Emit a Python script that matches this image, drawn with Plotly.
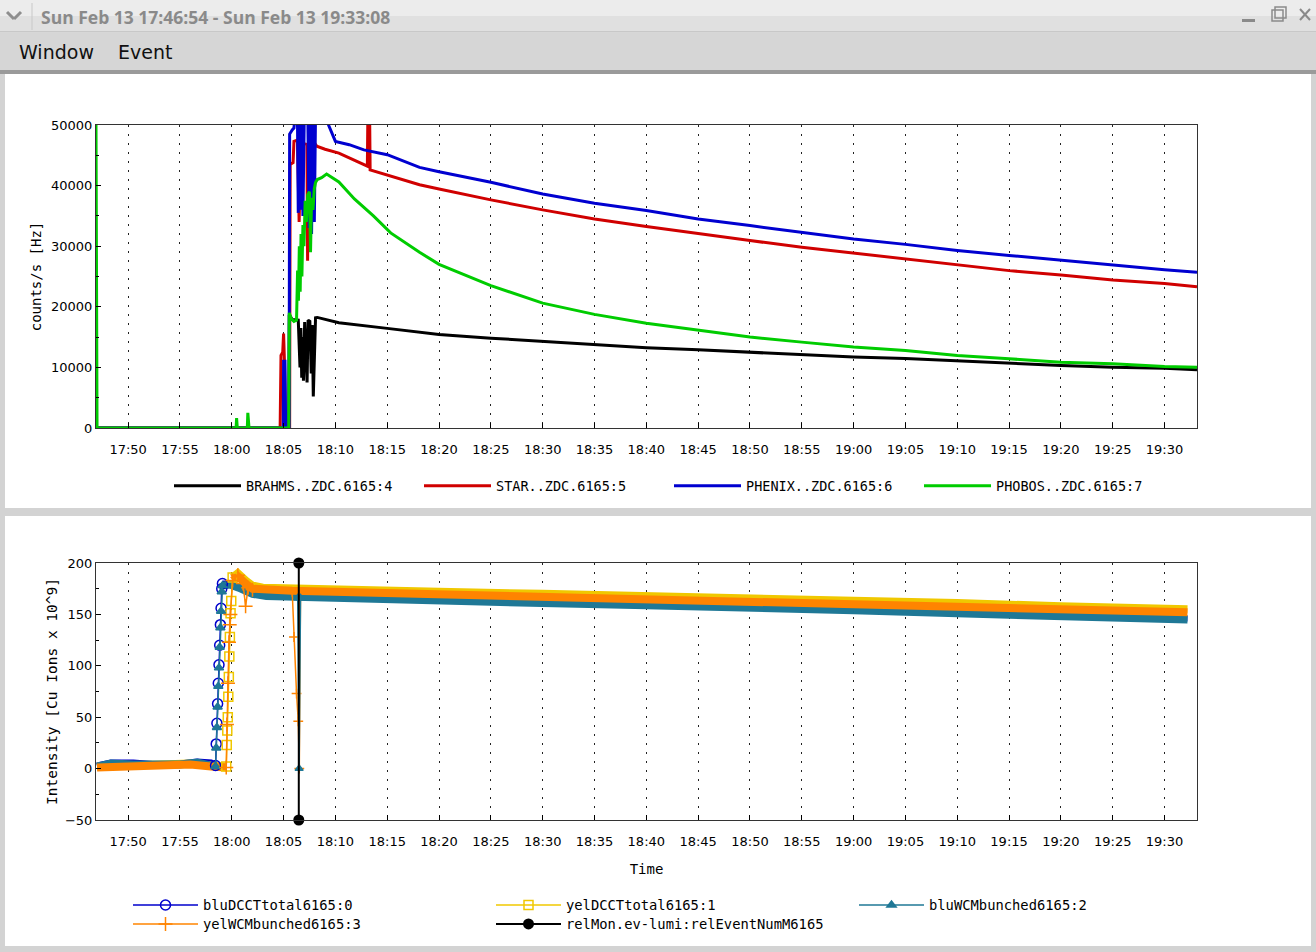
import pandas as pd
import plotly.graph_objects as go

DAY = "2005-02-13 "
T_START, T_END = "17:46:54", "19:33:08"
W, H = 1316, 952

# ---------------- top panel: ZDC coincidence rates [counts/s] ----------------
brahms = [("17:46:54", 0), ("18:05:30", 0), ("18:05:33", 18700), ("18:05:50", 17900), ("18:06:25", 17800),
          ("18:06:35", 10000), ("18:06:40", 16500), ("18:06:45", 8300), ("18:06:50", 15000), ("18:06:55", 7800),
          ("18:07:02", 17500), ("18:07:10", 12000), ("18:07:16", 7500), ("18:07:22", 17800), ("18:07:32", 17600),
          ("18:07:40", 9000), ("18:07:46", 17000), ("18:07:52", 5200), ("18:07:58", 12000), ("18:08:05", 18200),
          ("18:08:15", 18250), ("18:10:20", 17360), ("18:15:00", 16440), ("18:18:07", 15820), ("18:20:00", 15440),
          ("18:25:00", 14830), ("18:30:00", 14290), ("18:35:00", 13790), ("18:40:00", 13250), ("18:45:00", 12910),
          ("18:50:00", 12520), ("18:55:00", 12090), ("19:00:00", 11700), ("19:05:00", 11450), ("19:10:00", 11040),
          ("19:15:00", 10710), ("19:20:00", 10330), ("19:25:00", 10040), ("19:30:00", 9880), ("19:33:08", 9610)]

star = [("17:46:54", 0), ("18:04:40", 0), ("18:04:45", 12000), ("18:04:55", 12500), ("18:05:00", 15600),
        ("18:05:05", 11000), ("18:05:12", 0), ("18:05:35", 0), ("18:05:38", 43500), ("18:05:55", 43800),
        ("18:06:00", 47300), ("18:06:20", 47500), ("18:06:30", 34000), ("18:06:40", 47000), ("18:07:15", 46800),
        ("18:07:19", 27600), ("18:07:25", 47000), ("18:08:00", 47000), ("18:08:12", 46500), ("18:09:00", 46000),
        ("18:10:20", 45360), ("18:12:45", 43430), ("18:13:05", 43200), ("18:13:08", 52000), ("18:13:18", 52000),
        ("18:13:21", 42600), ("18:15:00", 41780), ("18:18:07", 40150), ("18:20:00", 39450), ("18:25:00", 37640),
        ("18:30:00", 35990), ("18:35:00", 34500), ("18:40:00", 33240), ("18:45:00", 32030), ("18:50:00", 30930),
        ("18:55:00", 29830), ("19:00:00", 28840), ("19:05:00", 27900), ("19:10:00", 26960), ("19:15:00", 25970),
        ("19:20:00", 25250), ("19:25:00", 24420), ("19:30:00", 23860), ("19:33:08", 23300)]

phenix = [("17:46:54", 0), ("18:04:58", 0), ("18:05:00", 11000), ("18:05:08", 11000), ("18:05:12", 0),
          ("18:05:32", 0), ("18:05:33", 19000), ("18:05:35", 48500), ("18:05:50", 49200), ("18:06:00", 49500),
          ("18:06:08", 52000), ("18:06:20", 52000), ("18:06:25", 35500), ("18:06:32", 52000), ("18:06:38", 36000),
          ("18:06:45", 52000), ("18:06:52", 35000), ("18:07:00", 52000), ("18:07:20", 52000), ("18:07:28", 33000),
          ("18:07:35", 52000), ("18:07:42", 32000), ("18:07:50", 52000), ("18:07:58", 34000), ("18:08:05", 52000),
          ("18:09:15", 52000), ("18:09:20", 50000), ("18:10:00", 47300), ("18:11:20", 46750), ("18:12:45", 45900),
          ("18:15:00", 45100), ("18:18:07", 43000), ("18:20:00", 42300), ("18:25:00", 40550), ("18:30:00", 38600),
          ("18:35:00", 37080), ("18:40:00", 35900), ("18:45:00", 34500), ("18:50:00", 33400), ("18:55:00", 32300),
          ("19:00:00", 31200), ("19:05:00", 30300), ("19:10:00", 29300), ("19:15:00", 28470), ("19:20:00", 27640),
          ("19:25:00", 26820), ("19:30:00", 26100), ("19:33:08", 25700)]

phobos = [("17:46:54", 50000), ("17:47:00", 0), ("18:00:25", 0), ("18:00:28", 1650), ("18:00:32", 0),
          ("18:01:30", 0), ("18:01:33", 2500), ("18:01:40", 0), ("18:05:30", 0), ("18:05:33", 19000),
          ("18:05:45", 18000), ("18:06:00", 17600), ("18:06:15", 17800), ("18:06:21", 26000), ("18:06:26", 21000),
          ("18:06:31", 30000), ("18:06:36", 22500), ("18:06:41", 32000), ("18:06:46", 25000), ("18:06:52", 33500),
          ("18:06:58", 30000), ("18:07:05", 37500), ("18:07:12", 34000), ("18:07:20", 38500), ("18:07:30", 39000),
          ("18:07:36", 29000), ("18:07:42", 38000), ("18:07:50", 36000), ("18:07:58", 39500), ("18:08:05", 40500),
          ("18:08:15", 41000), ("18:08:40", 41300), ("18:09:09", 41900), ("18:10:20", 40600), ("18:11:50", 37800),
          ("18:13:40", 35000), ("18:15:20", 32200), ("18:18:07", 29000), ("18:20:00", 27000), ("18:25:00", 23500),
          ("18:30:00", 20600), ("18:35:00", 18750), ("18:40:00", 17300), ("18:45:00", 16100), ("18:50:00", 15000),
          ("18:55:00", 14170), ("19:00:00", 13350), ("19:05:00", 12800), ("19:10:00", 11970), ("19:15:00", 11420),
          ("19:20:00", 10860), ("19:25:00", 10590), ("19:30:00", 10150), ("19:33:08", 10040)]

top_names = ["BRAHMS..ZDC.6165:4", "STAR..ZDC.6165:5", "PHENIX..ZDC.6165:6", "PHOBOS..ZDC.6165:7"]
top_colors = ["#000000", "#d00000", "#0000d0", "#00cc00"]

# ---------------- bottom panel: beam intensity [Cu ions x 10^9] ----------------
blu_dcct_base = [("17:47:00", 3), ("17:48:20", 6), ("17:50:30", 6), ("17:53:00", 4), ("17:55:00", 5),
                 ("17:56:40", 7), ("17:58:00", 6), ("17:58:26", 3)]
blu_dcct_ramp = [("17:58:26", 3), ("17:58:30", 24), ("17:58:34", 44), ("17:58:38", 63), ("17:58:42", 83),
                 ("17:58:46", 101), ("17:58:50", 120), ("17:58:54", 140), ("17:58:58", 156), ("17:59:02", 175),
                 ("17:59:06", 180)]
blu_dcct_beam = [("17:59:06", 180), ("17:59:50", 180), ("18:00:40", 177), ("18:02:00", 171), ("18:03:20", 169),
                 ("18:10:00", 167), ("18:20:00", 164), ("18:30:00", 162), ("18:40:00", 160), ("18:50:00", 158),
                 ("19:00:00", 155), ("19:10:00", 152), ("19:20:00", 149), ("19:32:13", 146)]
yel_dcct_base = [("17:47:00", 2), ("17:52:00", 3), ("17:56:00", 5), ("17:58:00", 3), ("17:59:28", 2)]
yel_dcct_ramp = [("17:59:28", 2), ("17:59:31", 23), ("17:59:34", 37), ("17:59:37", 50), ("17:59:40", 70),
                 ("17:59:43", 89), ("17:59:46", 109), ("17:59:49", 128), ("17:59:53", 151), ("17:59:57", 163),
                 ("18:00:05", 186)]
yel_dcct_beam = [("18:00:05", 186), ("18:00:35", 190), ("18:01:20", 183), ("18:02:00", 178), ("18:03:00", 176),
                 ("18:06:00", 175), ("18:10:00", 175), ("18:20:00", 172), ("18:30:00", 170), ("18:40:00", 168),
                 ("18:50:00", 165), ("19:00:00", 163), ("19:10:00", 161), ("19:20:00", 158), ("19:32:13", 155)]
blu_wcm_base = [("17:47:00", 2), ("17:48:20", 5), ("17:50:30", 4), ("17:53:00", 3), ("17:55:00", 4),
                ("17:56:40", 6), ("17:58:00", 4), ("17:58:26", 2)]
blu_wcm_ramp = [("17:58:26", 2), ("17:58:30", 20), ("17:58:34", 40), ("17:58:38", 60), ("17:58:42", 80),
                ("17:58:46", 98), ("17:58:50", 118), ("17:58:54", 137), ("17:58:58", 153), ("17:59:02", 172),
                ("17:59:06", 178)]
blu_wcm_beam = [("17:59:06", 178), ("17:59:50", 179), ("18:00:40", 176), ("18:02:00", 170), ("18:03:20", 168),
                ("18:10:00", 166), ("18:20:00", 163), ("18:30:00", 161), ("18:40:00", 159), ("18:50:00", 157),
                ("19:00:00", 154), ("19:10:00", 151), ("19:20:00", 148), ("19:32:13", 145)]
blu_wcm_drop = [("18:06:22", 166), ("18:06:30", 0), ("18:06:38", 166)]
yel_wcm_base = [("17:47:00", 1), ("17:52:00", 2), ("17:56:00", 4), ("17:58:00", 2), ("17:59:28", 1)]
yel_wcm_ramp = [("17:59:28", 1), ("17:59:32", 43), ("17:59:38", 83), ("17:59:44", 123), ("17:59:48", 140),
                ("17:59:52", 150), ("18:00:05", 183), ("18:00:35", 188), ("18:01:05", 180), ("18:01:20", 158),
                ("18:01:35", 176), ("18:02:00", 174)]
yel_wcm_beam = [("18:00:05", 183), ("18:00:35", 187), ("18:01:20", 180), ("18:02:00", 175), ("18:05:50", 173),
                ("18:10:00", 172), ("18:20:00", 169), ("18:30:00", 167), ("18:40:00", 165), ("18:50:00", 162),
                ("19:00:00", 160), ("19:10:00", 158), ("19:20:00", 155), ("19:32:13", 152)]
yel_wcm_drop = [("18:05:50", 172), ("18:06:00", 128), ("18:06:15", 73), ("18:06:25", 46), ("18:06:31", 0),
                ("18:06:38", 172)]
rel_mon = [("18:06:28", 200), ("18:06:28", -50)]

bot_names = ["bluDCCTtotal6165:0", "yelDCCTtotal6165:1", "bluWCMbunched6165:2",
             "yelWCMbunched6165:3", "relMon.ev-lumi:relEventNumM6165"]
bot_colors = ["#0000cc", "#f0c800", "#1f7896", "#ff8400", "#000000"]
bot_symbols = ["circle-open", "square-open", "triangle-up", "cross-thin-open", "circle"]

TITLE = "Sun Feb 13 17:46:54 - Sun Feb 13 19:33:08"
MENU = ["Window", "Event"]


def tx(pts):
    return pd.to_datetime([DAY + p[0] for p in pts])


def vy(pts):
    return [p[1] for p in pts]


def px(x):
    return x / W


def py(y):
    return 1 - y / H


fig = go.Figure()

for pts, name, col in zip([brahms, star, phenix, phobos], top_names, top_colors):
    fig.add_trace(go.Scatter(x=tx(pts), y=vy(pts), name=name, mode="lines",
                             line=dict(color=col, width=3), xaxis="x", yaxis="y", legend="legend"))

bands = [(blu_dcct_base, blu_dcct_beam, 0, 6), (yel_dcct_base, yel_dcct_beam, 1, 8),
         (blu_wcm_base, blu_wcm_beam, 2, 8), (yel_wcm_base, yel_wcm_beam, 3, 8)]
for base, beam, i, wd in bands:
    for seg_pts in (base, beam):
        fig.add_trace(go.Scatter(x=tx(seg_pts), y=vy(seg_pts), mode="lines", showlegend=False, hoverinfo="skip",
                                 line=dict(color=bot_colors[i], width=wd), xaxis="x2", yaxis="y2"))

ramps = [(blu_dcct_ramp, 0, 10, "legend2"), (yel_dcct_ramp, 1, 9, "legend2"),
         (blu_wcm_ramp, 2, 8, "legend2"), (yel_wcm_ramp, 3, 10, "legend3")]
for seg_pts, i, ms, lg in ramps:
    fig.add_trace(go.Scatter(x=tx(seg_pts), y=vy(seg_pts), name=bot_names[i], mode="lines+markers",
                             line=dict(color=bot_colors[i], width=1.5),
                             marker=dict(symbol=bot_symbols[i], size=ms, color=bot_colors[i],
                                         line=dict(color=bot_colors[i], width=1.5)),
                             xaxis="x2", yaxis="y2", legend=lg))
for seg_pts, i in [(yel_wcm_drop, 3), (blu_wcm_drop, 2)]:
    fig.add_trace(go.Scatter(x=tx(seg_pts), y=vy(seg_pts), mode="lines+markers", showlegend=False,
                             line=dict(color=bot_colors[i], width=1.5),
                             marker=dict(symbol=bot_symbols[i], size=7, color=bot_colors[i],
                                         line=dict(color=bot_colors[i], width=1.5)),
                             xaxis="x2", yaxis="y2"))
fig.add_trace(go.Scatter(x=tx(rel_mon), y=vy(rel_mon), name=bot_names[4], mode="lines+markers",
                         line=dict(color="#000000", width=2), cliponaxis=False,
                         marker=dict(symbol="circle", size=11, color="#000000"),
                         xaxis="x2", yaxis="y2", legend="legend3"))

tick_font = dict(family="DejaVu Sans", size=13, color="#000000")
mono = "DejaVu Sans Mono"
xcommon = dict(type="date", range=[DAY + T_START, DAY + T_END], tick0=DAY + "17:50:00", dtick=300000,
               tickformat="%H:%M", showline=True, mirror=True, linecolor="#333333", linewidth=1,
               ticks="inside", ticklen=5, tickcolor="#000000", tickfont=tick_font, ticklabelstandoff=9,
               showgrid=True, gridcolor="#222222", gridwidth=1, griddash="2px,7px", zeroline=False,
               automargin=False, domain=[px(96), px(1197)])
ycommon = dict(showline=True, mirror=True, linecolor="#333333", linewidth=1, ticks="inside", ticklen=5,
               tickcolor="#000000", tickfont=tick_font, showgrid=False, zeroline=False, tickformat="d",
               automargin=False)

shapes = []


def rect(x0, y0, x1, y1, fill, line=None):
    shapes.append(dict(type="rect", xref="paper", yref="paper", x0=px(x0), x1=px(x1), y0=py(y1), y1=py(y0),
                       fillcolor=fill, line=dict(width=0) if line is None else line, layer="below"))


def seg(x0, y0, x1, y1, col, wd=1):
    shapes.append(dict(type="line", xref="paper", yref="paper", x0=px(x0), x1=px(x1), y0=py(y0), y1=py(y1),
                       line=dict(color=col, width=wd)))


rect(0, 0, W, 16, "#ececec")
rect(0, 16, W, 32, "#e0e0e0")
seg(0, 32, W, 32, "#b0b0b0")
seg(32, 3, 32, 30, "#c8c8c8")
seg(7, 12, 14, 19, "#8e8e8e", 3)
seg(14, 19, 21, 12, "#8e8e8e", 3)
rect(1242, 19, 1255, 22, "#8a8a8a")
rect(1272, 10, 1283, 21, "rgba(0,0,0,0)", dict(color="#8a8a8a", width=1.5))
rect(1275, 7, 1286, 18, "rgba(0,0,0,0)", dict(color="#8a8a8a", width=1.5))
seg(1300, 9, 1310, 20, "#8a8a8a", 2)
seg(1300, 20, 1310, 9, "#8a8a8a", 2)
rect(0, 33, W, 70, "#d6d6d6")
rect(0, 70, W, 74, "#9a9a9a")
rect(0, 74, 5, H, "#d3d3d3")
rect(1311, 74, W, H, "#d3d3d3")
rect(0, 508, W, 516, "#d3d3d3")
rect(0, 946, W, H, "#d3d3d3")

annotations = [
    dict(text=TITLE, x=px(39), y=py(17), xref="paper", yref="paper", xanchor="left", yanchor="middle",
         showarrow=False, font=dict(family="Open Sans", size=17.5, color="#8a8a8a", weight="bold")),
    dict(text=MENU[0], x=px(17), y=py(52), xref="paper", yref="paper", xanchor="left", yanchor="middle",
         showarrow=False, font=dict(family="DejaVu Sans", size=19, color="#111111")),
    dict(text=MENU[1], x=px(116), y=py(52), xref="paper", yref="paper", xanchor="left", yanchor="middle",
         showarrow=False, font=dict(family="DejaVu Sans", size=19, color="#111111")),
]

leg_common = dict(orientation="h", xanchor="left", yanchor="middle", bgcolor="rgba(0,0,0,0)",
                  entrywidthmode="pixels", itemclick=False, itemdoubleclick=False, tracegroupgap=0)

fig.update_layout(
    width=W, height=H, margin=dict(l=0, r=0, t=0, b=0, pad=0, autoexpand=False), autosize=False,
    paper_bgcolor="#ffffff", plot_bgcolor="#ffffff",
    xaxis=dict(xcommon, anchor="y"),
    yaxis=dict(ycommon, domain=[py(428), py(125)], range=[0, 50000], dtick=10000, anchor="x",
               minor=dict(dtick=5000, ticks="inside", ticklen=3, tickcolor="#000000"),
               title=dict(text="counts/s [Hz]", font=dict(family=mono, size=14, color="#000000"), standoff=6)),
    xaxis2=dict(xcommon, anchor="y2",
                title=dict(text="Time", font=dict(family=mono, size=14, color="#000000"), standoff=16)),
    yaxis2=dict(ycommon, domain=[py(820), py(563)], range=[-50, 200], dtick=50, anchor="x2",
                minor=dict(dtick=25, ticks="inside", ticklen=3, tickcolor="#000000"),
                title=dict(text="Intensity [Cu Ions x 10^9]", font=dict(family=mono, size=14.5, color="#000000"),
                           standoff=3)),
    legend=dict(leg_common, x=px(169), y=py(486), entrywidth=168, itemwidth=67,
                font=dict(family=mono, size=13.5, color="#000000")),
    legend2=dict(leg_common, x=px(128), y=py(905), entrywidth=283, itemwidth=65,
                 font=dict(family=mono, size=13.8, color="#000000")),
    legend3=dict(leg_common, x=px(128), y=py(924), entrywidth=283, itemwidth=65,
                 font=dict(family=mono, size=13.8, color="#000000")),
    shapes=shapes, annotations=annotations, showlegend=True,
)

fig.write_html("out.html", config={"displayModeBar": False, "responsive": False},
               post_script="document.body.style.margin='0';document.body.style.overflow='hidden';")
